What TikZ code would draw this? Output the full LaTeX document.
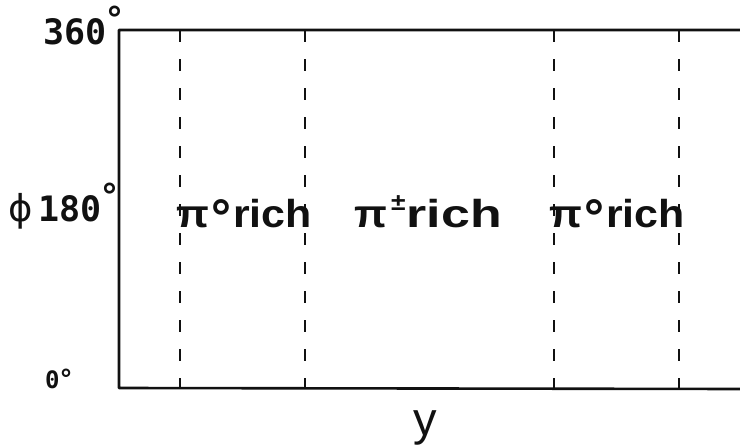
\documentclass[tikz,border=0pt]{standalone}
\usepackage{fontspec}
\setmainfont{Liberation Sans}
\newfontfamily\regionfont{Liberation Sans}[FakeStretch=1.1]
\newfontfamily\widefont{Liberation Sans}[FakeStretch=1.33]
\newfontfamily\tickfont{DejaVu Sans Mono}
\newfontfamily\phifont{DejaVu Sans}
\usetikzlibrary{positioning}
\definecolor{Ink}{HTML}{111111}
\newcommand{\upperdeg}{\raisebox{13pt}{\phifont\bfseries\fontsize{34}{34}\selectfont °}}
\newcommand{\lowdeg}{\raisebox{-8pt}{\phifont\bfseries\fontsize{48}{48}\selectfont °}}
\tikzset{
  frame/.style={draw=Ink,line width=2.6pt,line cap=round,line join=round},
  divider/.style={draw=Ink,line width=1.8pt,dash pattern=on 12pt off 17pt},
  ticklabel/.style={text=Ink,inner sep=0pt,anchor=base west,font=\tickfont\bfseries\fontsize{35}{35}\selectfont},
  region/.style={text=Ink,inner sep=0pt,anchor=base,font=\regionfont\bfseries\fontsize{39}{39}\selectfont},
  axislabel/.style={text=Ink,inner sep=0pt,anchor=base,font=\fontsize{47}{47}\selectfont}
}

\begin{document}
\begin{tikzpicture}[x=1pt,y=-1pt]
        \useasboundingbox (0,0) rectangle (740,447);
        \coordinate (top left) at (119,30);
        \coordinate (bottom left) at (119,388);
        \coordinate (top right) at (740,30);
        \coordinate (bottom right) at (740,389);
        \draw[frame] (top right) -- (top left) -- (bottom left) -- (bottom right);
        \foreach \xd in {180,305,554,679}
          \draw[divider] (\xd,0 |- top left) -- (\xd,0 |- bottom left);
        \node[ticklabel] (phimax) at (43,44) {360\upperdeg};
        \node[ticklabel] (phimid) at (8,221) {{\phifont\mdseries\fontsize{37}{37}\selectfont ϕ}\hspace{6pt}180\upperdeg};
        \node[ticklabel,font=\tickfont\bfseries\fontsize{24}{24}\selectfont] (phimin) at (45,388) {0{\phifont\bfseries\fontsize{26}{26}\selectfont °}};
        \node[region] (pizeroleft) at (244,227) {π\lowdeg rich};
        \node[region] (picharged) at (428,227) {π\hspace{4pt}\raisebox{17pt}{\fontsize{24}{24}\selectfont ±}\hspace{1pt}{\widefont rich}};
        \node[region] (pizeroright) at (617,227) {π\lowdeg rich};
        \node[axislabel] (rapidity) at (425,435) {y};
      \end{tikzpicture}
\end{document}
